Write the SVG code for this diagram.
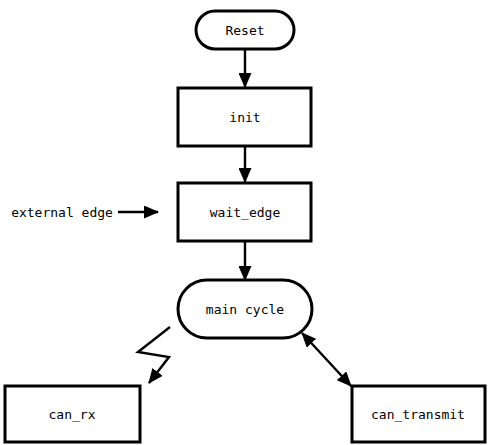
<svg xmlns="http://www.w3.org/2000/svg" width="490" height="445" viewBox="0 0 490 445">
<defs>
<style>
.box{fill:#fff;stroke:#000;stroke-width:3}
.lbl{font-family:"DejaVu Sans Mono","Liberation Mono",monospace;font-size:13px;fill:#000;text-anchor:middle;dominant-baseline:central}
.edge{fill:none;stroke:#000;stroke-width:2.4}
</style>
<marker id="ah" markerUnits="userSpaceOnUse" markerWidth="15" markerHeight="13" refX="14" refY="6.5" orient="auto-start-reverse" viewBox="0 0 15 13">
<path d="M0,0 L15,6.5 L0,13 Z" fill="#000"/>
</marker>
</defs>
<g id="connectors">
<line class="edge" x1="245" y1="50" x2="245" y2="87" marker-end="url(#ah)"/>
<line class="edge" x1="245" y1="146" x2="245" y2="182" marker-end="url(#ah)"/>
<line class="edge" x1="245" y1="242" x2="245" y2="280" marker-end="url(#ah)"/>
<line class="edge" x1="118" y1="212" x2="158" y2="212" marker-end="url(#ah)"/>
<line class="edge" x1="302" y1="333" x2="351" y2="386" marker-start="url(#ah)" marker-end="url(#ah)"/>
<polyline class="edge" points="170,327 138,352 169,357 149,383" marker-end="url(#ah)"/>
</g>
<g id="reset">
<rect class="box" x="196" y="11" width="98" height="38" rx="19"/>
<text class="lbl" x="245" y="30">Reset</text>
</g>
<g id="init">
<rect class="box" x="178" y="88" width="133" height="58"/>
<text class="lbl" x="245" y="117">init</text>
</g>
<g id="wait_edge">
<rect class="box" x="178" y="183" width="133" height="58"/>
<text class="lbl" x="245" y="212">wait_edge</text>
</g>
<g id="external">
<text class="lbl" x="62" y="212">external edge</text>
</g>
<g id="main_cycle">
<rect class="box" x="178" y="280" width="134" height="58" rx="29"/>
<text class="lbl" x="245" y="309">main cycle</text>
</g>
<g id="can_rx">
<rect class="box" x="5" y="386" width="135" height="56"/>
<text class="lbl" x="72" y="414">can_rx</text>
</g>
<g id="can_transmit">
<rect class="box" x="352" y="386" width="133" height="56"/>
<text class="lbl" x="418" y="414">can_transmit</text>
</g>
</svg>
